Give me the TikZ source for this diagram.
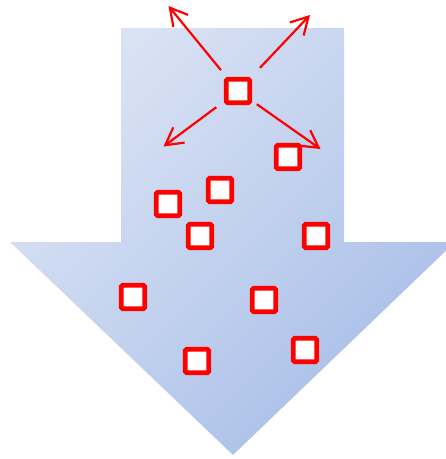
\documentclass[tikz,border=0pt]{standalone}
\usetikzlibrary{arrows.meta}
\definecolor{lightb}{HTML}{DAE3F4}
\definecolor{darkb}{HTML}{A8BEE8}
\tikzset{
  sq/.style={draw=red, fill=white, line width=4.8pt, minimum size=23.5pt, inner sep=0pt, rounded corners=1.5pt},
  arr/.style={draw=red, line width=2.2pt, -{Straight Barb[length=17pt,width=19pt,line width=2.2pt]}}
}
\begin{document}
\begin{tikzpicture}[x=1pt,y=-1pt]
\useasboundingbox (0,0) rectangle (446,459);
\clip (0,0) rectangle (446,459);
\shade[top color=lightb, bottom color=darkb, shading angle=45]
  (121,28) -- (344,28) -- (344,242) -- (455,242) -- (233,455) -- (10,242) -- (121,242) -- cycle;
\node[sq] (s1) at (238,91) {};
\node[sq] (s2) at (288,157) {};
\node[sq] (s3) at (220,190) {};
\node[sq] (s4) at (168,204) {};
\node[sq] (s5) at (200,236) {};
\node[sq] (s6) at (316,236) {};
\node[sq] (s7) at (133,297) {};
\node[sq] (s8) at (264,300) {};
\node[sq] (s9) at (197,361) {};
\node[sq] (s10) at (305,350) {};
\coordinate (t1) at (168.5,6);
\coordinate (t2) at (310,15);
\coordinate (t3) at (163.5,146.5);
\coordinate (t4) at (320.5,149);
\draw[arr, shorten <=27pt] (s1.center) -- (t1);
\draw[arr, shorten <=32pt] (s1.center) -- (t2);
\draw[arr, shorten <=27pt] (s1.center) -- (t3);
\draw[arr, shorten <=23pt] (s1.center) -- (t4);
\end{tikzpicture}
\end{document}
